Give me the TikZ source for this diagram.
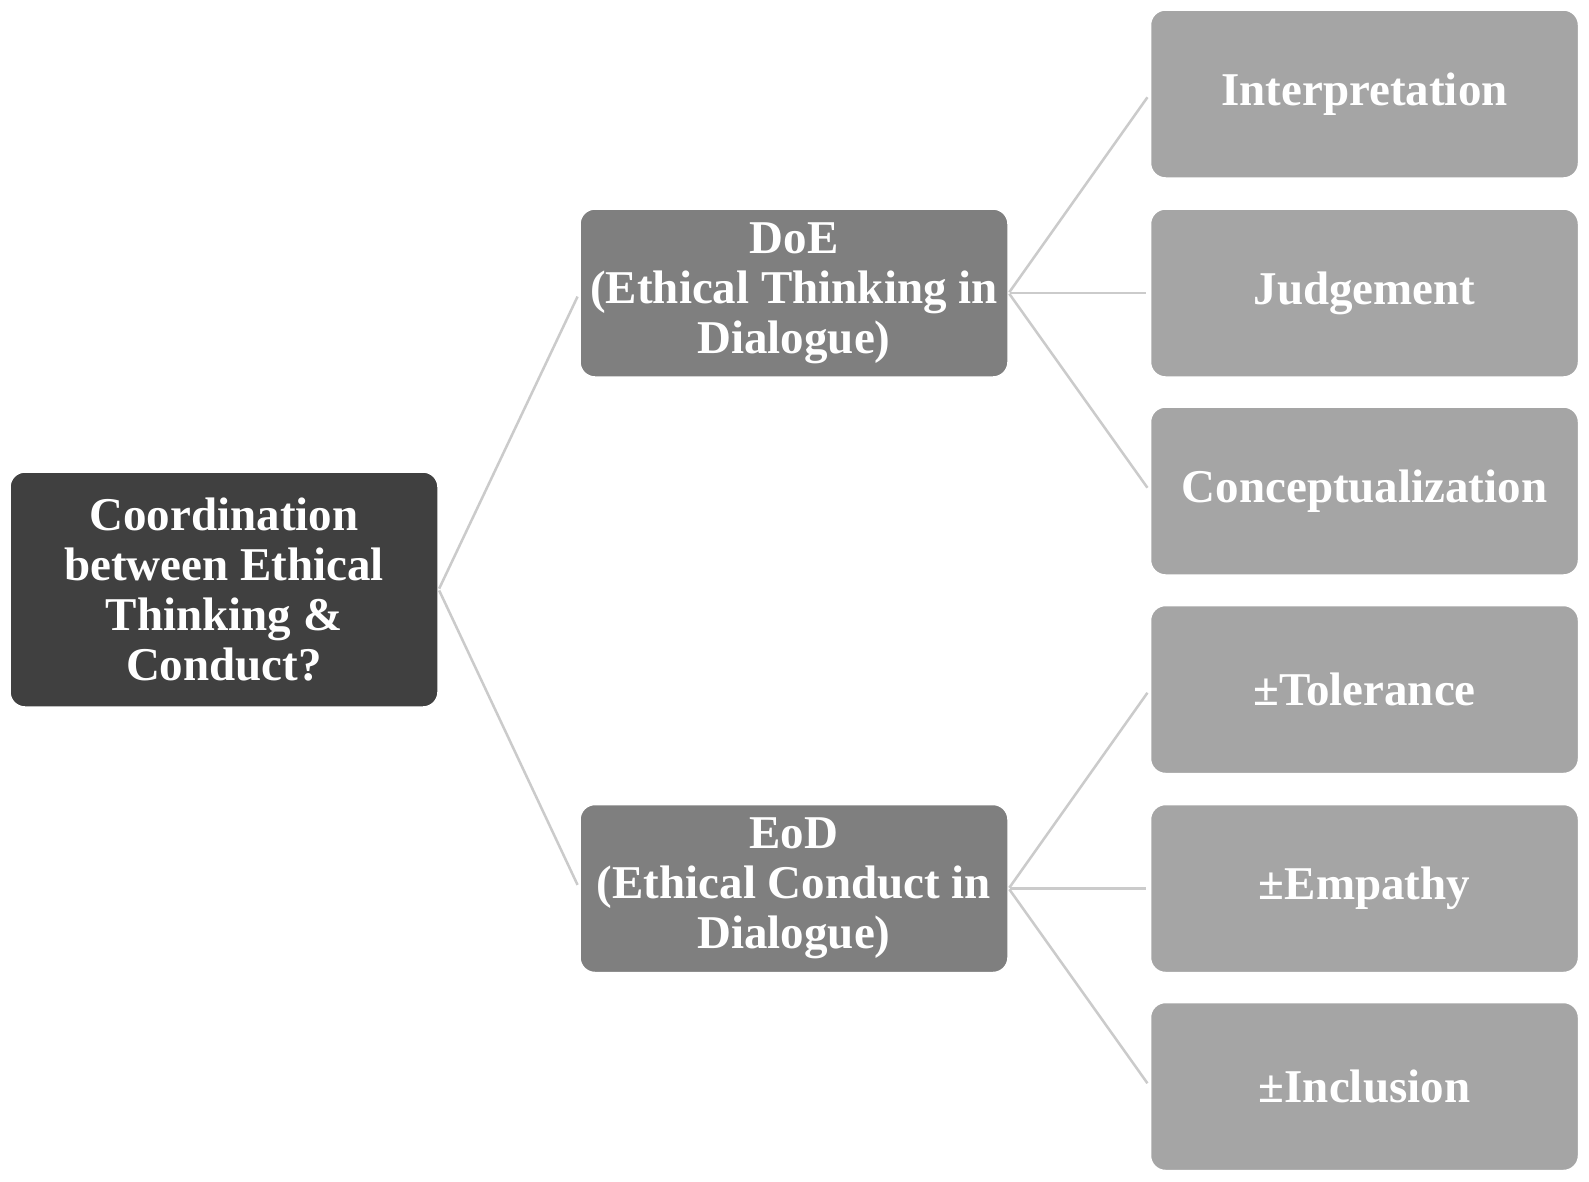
\documentclass[tikz,border=0pt]{standalone}
\usepackage{fontspec}
\setmainfont{Liberation Serif}
\definecolor{rootfill}{HTML}{404040}
\definecolor{midfill}{HTML}{7F7F7F}
\definecolor{leaffill}{HTML}{A5A5A5}
\definecolor{linkcol}{HTML}{CBCBCB}
\begin{document}
\begin{tikzpicture}[x=1pt,y=-1pt,
  box/.style={rounded corners=15pt, draw=white, line width=1.5pt, text=white,
    font=\fontsize{47}{50}\selectfont\bfseries, align=center, inner sep=0pt,
    minimum width=428pt},
  rootbox/.style={box, fill=rootfill, minimum height=235pt},
  midbox/.style={box, fill=midfill, minimum height=168pt},
  leafbox/.style={box, fill=leaffill, minimum height=168pt},
  link/.style={draw=linkcol, line width=2.5pt, shorten <=1pt, shorten >=4pt}]
\useasboundingbox[fill=white] (0,0) rectangle (1589,1181);
\node[rootbox] (root) at (224,589.5) {Coordination\\between Ethical\\Thinking \&\\Conduct?};
\node[midbox] (doe) at (794,293) {DoE\\(Ethical Thinking in\\Dialogue)};
\node[midbox] (eod) at (794,888.5) {EoD\\(Ethical Conduct in\\Dialogue)};
\node[leafbox] (l1) at (1364.5,94) {Interpretation};
\node[leafbox] (l2) at (1364.5,293) {Judgement};
\node[leafbox] (l3) at (1364.5,491) {Conceptualization};
\node[leafbox] (l4) at (1364.5,689.5) {±Tolerance};
\node[leafbox] (l5) at (1364.5,888.5) {±Empathy};
\node[leafbox] (l6) at (1364.5,1086.5) {±Inclusion};
\draw[link] (root.east) -- (doe.west);
\draw[link] (root.east) -- (eod.west);
\foreach \c in {l1,l2,l3} \draw[link] (doe.east) -- (\c.west);
\foreach \c in {l4,l5,l6} \draw[link] (eod.east) -- (\c.west);
\end{tikzpicture}
\end{document}
